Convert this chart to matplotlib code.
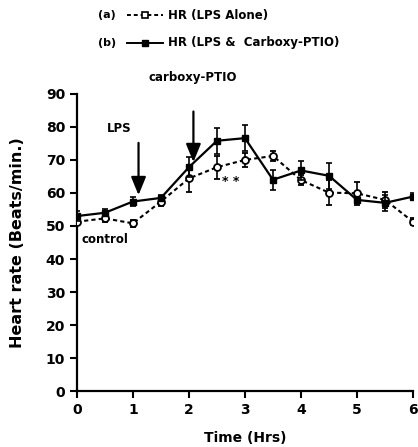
import matplotlib
matplotlib.use("Agg")
import matplotlib.pyplot as plt

plt.rcParams['font.family'] = ['DejaVu Sans']
plt.rcParams['font.weight'] = 'bold'

time_hrs = [0, 0.5, 1, 1.5, 2, 2.5, 3, 3.5, 4, 4.5, 5, 5.5, 6]
hr_lps_alone = [51.3, 52.3, 50.8, 57.4, 64.4, 67.8, 70.0, 71.2, 63.9, 60.1, 59.9, 57.9, 51.3]
err_lps_alone = [1.0, 1.0, 1.0, 1.5, 4.0, 3.5, 2.0, 1.5, 1.5, 3.7, 3.5, 2.5, 1.0]
hr_lps_ptio = [53.0, 54.0, 57.4, 58.5, 67.8, 75.8, 76.6, 64.0, 66.8, 65.2, 57.9, 57.0, 58.9]
err_lps_ptio = [1.5, 1.0, 1.5, 1.0, 3.0, 4.0, 4.0, 3.0, 3.0, 4.0, 1.0, 2.5, 1.0]

fig = plt.figure(figsize=(4.18, 4.47), dpi=100)
ax = fig.add_axes([0.184, 0.125, 0.804, 0.665])

ax.errorbar(time_hrs, hr_lps_alone, yerr=err_lps_alone, fmt='o', ls=(0, (2, 1.5)),
            color='black', mfc='white', mec='black', ms=5, mew=1.3, lw=1.5,
            capsize=2.5, elinewidth=1.2, capthick=1.2, zorder=3)
ax.errorbar(time_hrs, hr_lps_ptio, yerr=err_lps_ptio, fmt='s', ls='-',
            color='black', mfc='black', mec='black', ms=5, lw=1.6,
            capsize=2.5, elinewidth=1.2, capthick=1.2, zorder=4)

ax.set_xlim(0, 6)
ax.set_ylim(0, 90)
ax.set_xticks(range(0, 7))
ax.set_yticks(range(0, 91, 10))
for s in ['top', 'right']:
    ax.spines[s].set_visible(False)
for s in ['left', 'bottom']:
    ax.spines[s].set_linewidth(1.6)
ax.tick_params(direction='out', length=5, width=1.5, labelsize=10)
for lab in ax.get_xticklabels() + ax.get_yticklabels():
    lab.set_fontweight('bold')

ax.set_xlabel('Time (Hrs)', fontsize=10, fontweight='bold', labelpad=10)
ax.set_ylabel('Heart rate (Beats/min.)', fontsize=11.5, fontweight='bold', labelpad=15)

# arrows
ax.annotate('', xy=(1.1, 58.5), xytext=(1.1, 76),
            arrowprops=dict(arrowstyle='-|>,head_length=1.1,head_width=0.45', color='black', lw=1.6))
ax.annotate('', xy=(2.08, 68.5), xytext=(2.08, 85.5),
            arrowprops=dict(arrowstyle='-|>,head_length=1.1,head_width=0.45', color='black', lw=1.6))

ax.text(0.75, 79.5, 'LPS', fontsize=8.5, fontweight='bold', ha='center', va='center')
ax.text(0.08, 45.8, 'control', fontsize=8.5, fontweight='bold', ha='left', va='center')
ax.text(2.75, 63.5, '* *', fontsize=9, fontweight='bold', ha='center', va='center')
ax.text(2.07, 93, 'carboxy-PTIO', fontsize=8.5, fontweight='bold', ha='center', va='bottom', clip_on=False)

# legend-like header
ya, yb = 0.966, 0.904
fig.text(0.235, ya, '(a)', fontsize=8, fontweight='bold', ha='left', va='center')
fig.text(0.235, yb, '(b)', fontsize=8, fontweight='bold', ha='left', va='center')
ax.plot([0.304, 0.39], [ya, ya], transform=fig.transFigure, color='black',
        ls=(0, (2, 1.5)), lw=1.4, clip_on=False)
ax.plot([0.347], [ya], transform=fig.transFigure, marker='s', ms=4, mfc='white',
        mec='black', mew=1.2, clip_on=False)
ax.plot([0.304, 0.39], [yb, yb], transform=fig.transFigure, color='black',
        ls='-', lw=1.4, clip_on=False)
ax.plot([0.347], [yb], transform=fig.transFigure, marker='s', ms=4, mfc='black',
        mec='black', clip_on=False)
fig.text(0.402, ya, 'HR (LPS Alone)', fontsize=8.5, fontweight='bold', ha='left', va='center')
fig.text(0.402, yb, 'HR (LPS &  Carboxy-PTIO)', fontsize=8.5, fontweight='bold', ha='left', va='center')

fig.savefig('out.png', dpi=100)
